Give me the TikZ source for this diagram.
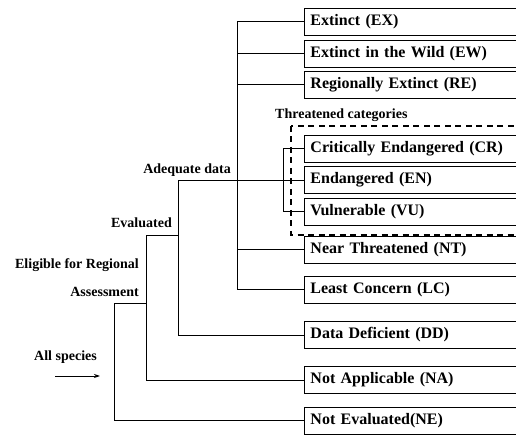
\documentclass[tikz,border=0pt]{standalone}
\usepackage{fontspec}
\setmainfont{Liberation Serif}
\usetikzlibrary{arrows.meta}
\begin{document}
\begin{tikzpicture}[x=1pt,y=-1pt,
  catbox/.style={draw, line width=0.9pt, anchor=west, minimum height=27pt,
    text width=218pt, inner xsep=6pt, inner ysep=0pt, align=left,
    font=\bfseries\fontsize{16}{19}\selectfont},
  lbl/.style={font=\bfseries\fontsize{14}{16}\selectfont, inner sep=0pt},
  conn/.style={line width=0.9pt},
  grp/.style={line width=1.2pt, dash pattern=on 6pt off 4.5pt}]
\useasboundingbox (0,0) rectangle (516,435);
\clip (0,0) rectangle (516,435);
% category boxes
\node[catbox] (EX) at (304,21.5) {Extinct (EX)};
\node[catbox] (EW) at (304,53.5) {Extinct in the Wild (EW)};
\node[catbox] (RE) at (304,84.5) {Regionally Extinct (RE)};
\node[catbox] (CR) at (304,148.5) {Critically Endangered (CR)};
\node[catbox] (EN) at (304,180) {Endangered (EN)};
\node[catbox] (VU) at (304,211.5) {Vulnerable (VU)};
\node[catbox] (NT) at (304,249.5) {Near Threatened (NT)};
\node[catbox] (LC) at (304,289.5) {Least Concern (LC)};
\node[catbox] (DD) at (304,335) {Data Deficient (DD)};
\node[catbox] (NA) at (304,380) {Not Applicable (NA)};
\node[catbox] (NE) at (304,420.5) {Not Evaluated(NE)};
% threatened group
\draw[grp] (291,126) rectangle (540,235);
\node[lbl, anchor=base west] (thr) at (275,119) {Threatened categories};
% spine coordinates
\coordinate (a1) at (237,0);
\coordinate (t1) at (283,0);
\coordinate (e1) at (178,0);
\coordinate (g1) at (146,0);
\coordinate (s1) at (114,0);
\coordinate (ev) at (178,235);
\coordinate (el) at (146,303);
% adequate data spine
\draw[conn] (EX.west) -- (EX.west -| a1) -- (LC.west -| a1) -- (LC.west);
\draw[conn] (EW.west) -- (EW.west -| a1);
\draw[conn] (RE.west) -- (RE.west -| a1);
\draw[conn] (NT.west) -- (NT.west -| a1);
% threatened spine
\draw[conn] (CR.west) -- (CR.west -| t1) -- (VU.west -| t1) -- (VU.west);
% evaluated spine
\draw[conn] (EN.west) -- (EN.west -| e1) -- (DD.west -| e1) -- (DD.west);
% eligible spine
\draw[conn] (ev) -- (ev -| g1) -- (NA.west -| g1) -- (NA.west);
% all species spine
\draw[conn] (el) -- (el -| s1) -- (NE.west -| s1) -- (NE.west);
% labels
\node[lbl, anchor=base east] (adq) at (231,174) {Adequate data};
\node[lbl, anchor=base east] (evl) at (172,228) {Evaluated};
\node[lbl, anchor=base east] (elg) at (139,269) {Eligible for Regional};
\node[lbl, anchor=base east] (ass) at (139,297) {Assessment};
\node[lbl, anchor=base] (all) at (65.5,360) {All species};
% arrow
\coordinate (arrS) at (55,376);
\coordinate (arrE) at (100,376);
\draw[conn, -{Stealth[length=6pt,width=4pt]}] (arrS) -- (arrE);
\end{tikzpicture}
\end{document}
